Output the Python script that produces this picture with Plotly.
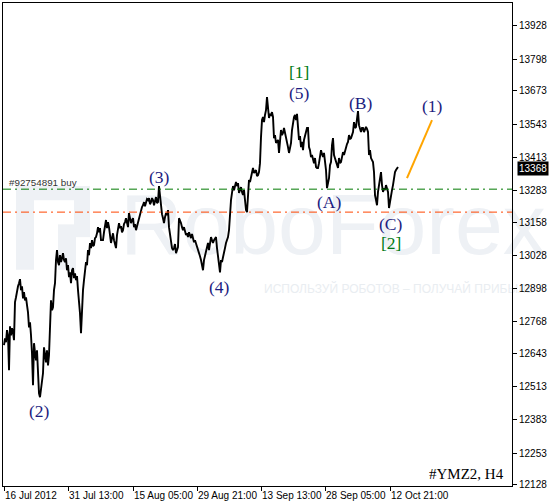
import plotly.graph_objects as go

# ---------------- data ----------------
close = [
    12676, 12703, 12688, 12735, 12715, 12578, 12750, 12715, 12743, 12727,
    12696, 12845, 12864, 12892, 12907, 12919, 12935, 12892, 12907, 12860,
    12884, 12852, 12864, 12833, 12805, 12746, 12766, 12715, 12644, 12519,
    12684, 12648, 12617, 12656, 12578, 12487, 12472, 12507, 12519, 12566,
    12668, 12625, 12609, 12656, 12597, 12637, 12735, 12852, 12813, 12825,
    12892, 12919, 13010, 13049, 13002, 12990, 13029, 13002, 13017, 13037,
    13010, 13002, 13017, 12970, 12990, 12943, 12962, 12919, 12970, 12978,
    12939, 12958, 12931, 12947, 12892, 12852, 12801, 12723, 12825, 12892,
    12931, 12978, 13002, 12990, 13049, 13029, 13077, 13057, 13088, 13065,
    13069, 13096, 13100, 13115, 13139, 13119, 13135, 13088, 13088, 13088,
    13119, 13147, 13167, 13135, 13159, 13139, 13108, 13077, 13096, 13115,
    13088, 13073, 13057, 13108, 13139, 13155, 13135, 13143, 13119, 13127,
    13151, 13159, 13174, 13155, 13139, 13194, 13170, 13155, 13167, 13174,
    13139, 13151, 13127, 13143, 13159, 13167, 13186, 13206, 13218, 13225,
    13237, 13221, 13233, 13249, 13245, 13253, 13229, 13237, 13253, 13245,
    13225, 13245, 13257, 13233, 13237, 13300, 13257, 13206, 13190, 13174,
    13155, 13178, 13194, 13186, 13206, 13139, 13104, 13077, 13057, 13049,
    13057, 13073, 13037, 13049, 13061, 13174, 13167, 13155, 13139, 13127,
    13139, 13119, 13108, 13115, 13100, 13119, 13104, 13096, 13112, 13100,
    13080, 13088, 13077, 13061, 13049, 13037, 13025, 13010, 12990, 12970,
    13010, 13025, 13037, 13057, 13077, 13049, 13077, 13100, 13088, 13077,
    13088, 13096, 13100, 13057, 13021, 13010, 12962, 13010, 13002, 13021,
    13049, 13057, 13077, 13088, 13100, 13127, 13206, 13245, 13273, 13300,
    13284, 13304, 13316, 13300, 13312, 13273, 13288, 13296, 13277, 13265,
    13284, 13245, 13206, 13198, 13284, 13324, 13316, 13335, 13347, 13371,
    13351, 13359, 13363, 13339, 13343, 13355, 13390, 13492, 13559, 13571,
    13551, 13579, 13598, 13649, 13587, 13567, 13583, 13579, 13590, 13571,
    13488, 13500, 13469, 13477, 13481, 13430, 13492, 13520, 13500, 13508,
    13528, 13512, 13492, 13473, 13453, 13430, 13445, 13469, 13520, 13547,
    13571, 13579, 13559, 13583, 13532, 13481, 13496, 13453, 13473, 13441,
    13481, 13500, 13520, 13528, 13528, 13453, 13441, 13414, 13422, 13402,
    13390, 13410, 13375, 13371, 13371, 13390, 13422, 13441, 13426, 13414,
    13430, 13402, 13363, 13292, 13316, 13331, 13382, 13394, 13461, 13488,
    13422, 13410, 13394, 13382, 13371, 13410, 13390, 13394, 13422, 13433,
    13422, 13441, 13449, 13465, 13473, 13500, 13484, 13488, 13500, 13512,
    13551, 13528, 13532, 13559, 13594, 13539, 13528, 13512, 13528, 13528,
    13512, 13520, 13532, 13524, 13512, 13422, 13441, 13410, 13402, 13394,
    13355, 13265, 13245, 13225, 13277, 13304, 13324, 13355, 13304, 13277,
    13292, 13284, 13304, 13292, 13277, 13214, 13237, 13277, 13284, 13304,
    13343, 13355, 13363, 13371, 13375,
]
bars = list(range(len(close)))

date_tick_bars = [0, 64, 129, 193, 257, 321, 386]
date_tick_labels = ["16 Jul 2012", "31 Jul 13:00", "15 Aug 05:00", "29 Aug 21:00",
                    "13 Sep 13:00", "28 Sep 05:00", "12 Oct 21:00"]

price_ticks = [13928, 13798, 13673, 13543, 13413, 13283, 13158, 13028,
               12898, 12768, 12643, 12513, 12383, 12253, 12128]
price_tick_labels = [str(v) for v in price_ticks]

current_price = 13368
order_line_price = 13288
order_line_label = "#92754891 buy"
stop_line_price = 13198

forecast_bars = [403, 428]
forecast_prices = [13331, 13559]

wave_labels = ["(2)", "(3)", "(4)", "(5)", "[1]", "(B)", "(A)", "(C)", "[2]", "(1)"]
wave_bars = [35, 155, 215, 295, 295, 357, 325, 387, 387, 428]
wave_prices = [12417, 13335, 12904, 13665, 13747, 13626, 13237, 13151, 13077, 13614]

symbol_label = "#YMZ2, H4"
watermark_main = "RoboForex"
watermark_sub = "ИСПОЛЬЗУЙ РОБОТОВ – ПОЛУЧАЙ ПРИБЫЛЬ"

# ---------------- styling ----------------
UI_FONT = "Liberation Sans, Arial, sans-serif"
SERIF = "Liberation Serif, Times New Roman, serif"
WAVE_BLUE = "#1c1c80"
WAVE_GREEN = "#007a14"
WM_COLOR = "#eef1f5"

fig = go.Figure()

# watermark (drawn below the price line)
fig.add_trace(go.Scatter(
    x=[329], y=[13118], mode="text", text=[watermark_main],
    textfont=dict(family="Liberation Sans, Arial, sans-serif", size=86, color=WM_COLOR),
    textposition="middle center", cliponaxis=False, hoverinfo="skip", showlegend=False))
fig.add_trace(go.Scatter(
    x=[260], y=[12892], mode="text", text=[watermark_sub],
    textfont=dict(family="Liberation Sans, Arial, sans-serif", size=12, color="#e9edf1"),
    textposition="middle right", cliponaxis=False, hoverinfo="skip", showlegend=False))

# price line
fig.add_trace(go.Scatter(
    x=bars, y=close, mode="lines",
    line=dict(color="black", width=1.9),
    hoverinfo="skip", showlegend=False))

# forecast
fig.add_trace(go.Scatter(
    x=forecast_bars, y=forecast_prices, mode="lines",
    line=dict(color="#ffa500", width=2),
    hoverinfo="skip", showlegend=False))

shapes = [
    # watermark logo (pale blocks)
    dict(type="rect", xref="x", yref="y", x0=12, x1=30, y0=12972, y1=13300,
         fillcolor=WM_COLOR, line=dict(width=0), layer="below"),
    dict(type="rect", xref="x", yref="y", x0=12, x1=86, y0=13245, y1=13300,
         fillcolor=WM_COLOR, line=dict(width=0), layer="below"),
    dict(type="rect", xref="x", yref="y", x0=54, x1=72, y0=12972, y1=13110,
         fillcolor=WM_COLOR, line=dict(width=0), layer="below"),
    dict(type="rect", xref="x", yref="y", x0=54, x1=86, y0=13100, y1=13150,
         fillcolor=WM_COLOR, line=dict(width=0), layer="below"),
    dict(type="rect", xref="x", yref="y", x0=70, x1=86, y0=13100, y1=13300,
         fillcolor=WM_COLOR, line=dict(width=0), layer="below"),
    # order lines
    dict(type="line", xref="paper", yref="y", x0=0, x1=1,
         y0=order_line_price, y1=order_line_price,
         line=dict(color="#007a00", width=1, dash="8px,4px,2px,4px")),
    dict(type="line", xref="paper", yref="y", x0=0, x1=1,
         y0=stop_line_price, y1=stop_line_price,
         line=dict(color="#ff4500", width=1, dash="8px,4px,2px,4px")),
]

annotations = []
for t, b, p in zip(wave_labels, wave_bars, wave_prices):
    col = WAVE_GREEN if t.startswith("[") else WAVE_BLUE
    annotations.append(dict(
        x=b, y=p, xref="x", yref="y", text=t, showarrow=False,
        font=dict(family=SERIF, size=17.5, color=col),
        xanchor="center", yanchor="middle"))

annotations += [
    dict(x=0, y=order_line_price, xref="paper", yref="y", text=order_line_label,
         showarrow=False, xanchor="left", yanchor="bottom", xshift=4, yshift=-1,
         font=dict(family=UI_FONT, size=9.8, color="#333333")),
    dict(x=1, y=current_price, xref="paper", yref="y", text=str(current_price),
         showarrow=False, xanchor="left", yanchor="middle", xshift=5,
         bgcolor="black", borderpad=1,
         font=dict(family=UI_FONT, size=10, color="white")),
    dict(x=0.988, y=0.025, xref="paper", yref="paper", text=symbol_label,
         showarrow=False, xanchor="right", yanchor="middle",
         font=dict(family=SERIF, size=15, color="black")),
]

fig.update_layout(
    width=553, height=504,
    margin=dict(l=3, r=41, t=3, b=18, autoexpand=False),
    paper_bgcolor="white", plot_bgcolor="white",
    showlegend=False,
    shapes=shapes, annotations=annotations,
    xaxis=dict(
        range=[-1, 508], showgrid=False, zeroline=False,
        showline=True, linecolor="black", linewidth=1, mirror=True,
        tickmode="array", tickvals=date_tick_bars, ticktext=date_tick_labels,
        ticks="outside", ticklen=4, tickcolor="black", tickwidth=1,
        ticklabelposition="outside right", tickangle=0, automargin=False,
        tickfont=dict(family=UI_FONT, size=10, color="black"),
        fixedrange=True,
    ),
    yaxis=dict(
        range=[12124, 14018], side="right", showgrid=False, zeroline=False,
        showline=True, linecolor="black", linewidth=1, mirror=True,
        tickmode="array", tickvals=price_ticks, ticktext=price_tick_labels,
        ticks="outside", ticklen=4, tickcolor="black", tickwidth=1,
        automargin=False,
        tickfont=dict(family=UI_FONT, size=10, color="black"),
        fixedrange=True,
    ),
)

fig.write_html("out.html", config={"displayModeBar": False},
               post_script="document.body.style.margin='0px';")
